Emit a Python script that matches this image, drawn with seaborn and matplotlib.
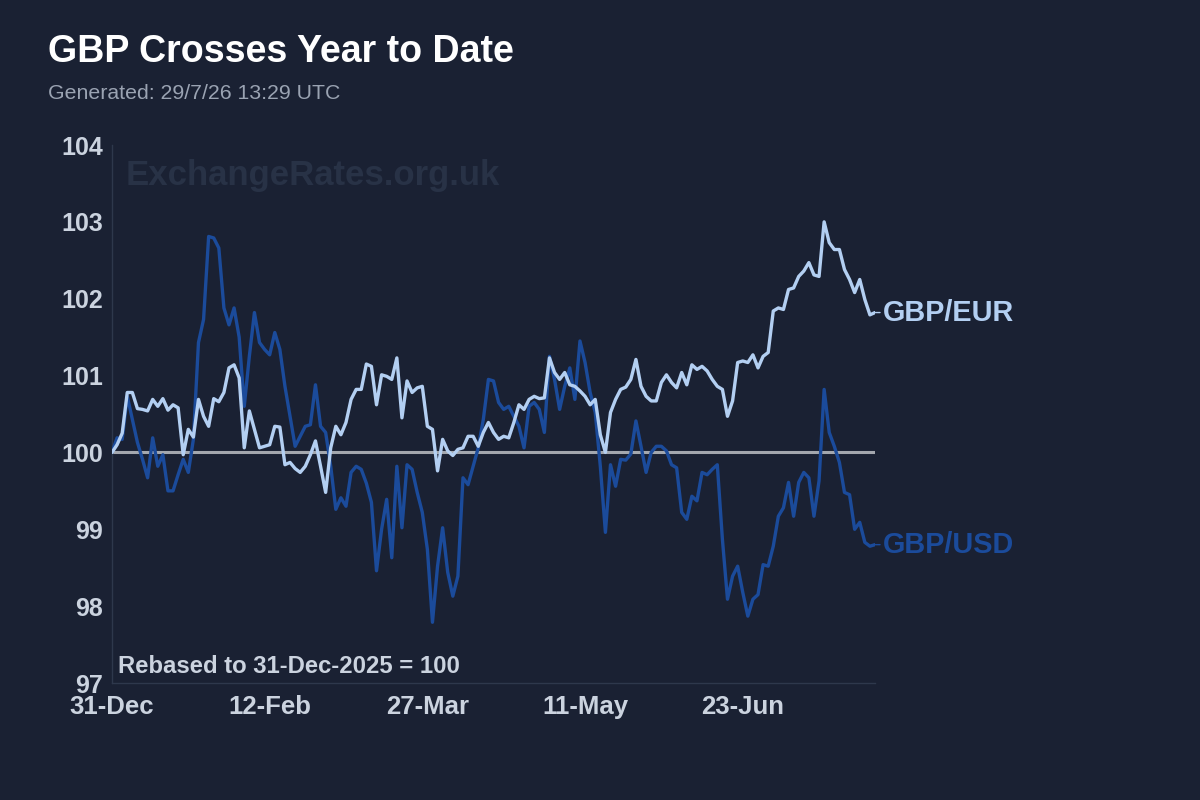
import numpy as np
import pandas as pd
import matplotlib
matplotlib.use("Agg")
import matplotlib.pyplot as plt
import seaborn as sns

# ---------------- data ----------------
start_date = "2025-12-31"
pairs = ["GBP/USD", "GBP/EUR"]
tick_labels = ["31-Dec", "12-Feb", "27-Mar", "11-May", "23-Jun"]

gbp_eur = [
    100.0, 100.1, 100.25, 100.78, 100.78, 100.57, 100.56, 100.54, 100.69, 100.6,
    100.7, 100.55, 100.62, 100.58, 99.97, 100.3, 100.2, 100.69, 100.47, 100.34,
    100.7, 100.66, 100.78, 101.1, 101.14, 100.97, 100.06, 100.54, 100.3, 100.06,
    100.08, 100.1, 100.34, 100.33, 99.84, 99.87, 99.79, 99.74, 99.82, 99.97,
    100.15, 99.82, 99.48, 100.06, 100.34, 100.23, 100.39, 100.69, 100.82, 100.82,
    101.15, 101.12, 100.62, 101.01, 100.99, 100.95, 101.23, 100.45, 100.93, 100.78,
    100.84, 100.86, 100.34, 100.3, 99.76, 100.17, 100.02, 99.96, 100.04, 100.06,
    100.21, 100.21, 100.08, 100.26, 100.39, 100.26, 100.17, 100.21, 100.19, 100.39,
    100.62, 100.56, 100.69, 100.73, 100.7, 100.71, 101.23, 101.04, 100.95, 101.04,
    100.88, 100.86, 100.8, 100.73, 100.62, 100.69, 100.23, 100.0, 100.52, 100.69,
    100.82, 100.85, 100.95, 101.21, 100.86, 100.73, 100.67, 100.67, 100.91, 101.01,
    100.91, 100.84, 101.04, 100.88, 101.14, 101.08, 101.12, 101.06, 100.95, 100.86,
    100.82, 100.47, 100.67, 101.17, 101.19, 101.17, 101.27, 101.1, 101.25, 101.3,
    101.84, 101.88, 101.86, 102.12, 102.14, 102.29, 102.36, 102.47, 102.31, 102.29,
    103.0, 102.73, 102.64, 102.64, 102.38, 102.25, 102.08, 102.25, 101.99, 101.79,
    101.82,
]

gbp_usd = [
    100.0, 100.19, 100.17, 100.73, 100.43, 100.13, 99.91, 99.67, 100.19, 99.82,
    99.97, 99.5, 99.5, 99.71, 99.91, 99.74, 100.17, 101.43, 101.73, 102.81,
    102.79, 102.66, 101.88, 101.66, 101.88, 101.5, 100.6, 101.25, 101.82, 101.43,
    101.34, 101.27, 101.56, 101.34, 100.86, 100.47, 100.08, 100.21, 100.34, 100.36,
    100.88, 100.34, 100.26, 99.82, 99.26, 99.41, 99.3, 99.74, 99.82, 99.78,
    99.6, 99.35, 98.46, 99.0, 99.39, 98.63, 99.82, 99.02, 99.84, 99.78,
    99.48, 99.22, 98.74, 97.79, 98.52, 99.02, 98.44, 98.13, 98.39, 99.67,
    99.58, 99.82, 100.06, 100.43, 100.95, 100.93, 100.65, 100.56, 100.6, 100.47,
    100.34, 100.06, 100.6, 100.65, 100.56, 100.26, 101.25, 100.95, 100.56, 100.86,
    101.1, 100.69, 101.45, 101.17, 100.78, 100.52, 99.82, 98.96, 99.84, 99.56,
    99.91, 99.9, 99.98, 100.41, 100.08, 99.74, 100.0, 100.08, 100.08, 100.02,
    99.84, 99.8, 99.22, 99.13, 99.43, 99.37, 99.74, 99.71, 99.78, 99.84,
    98.87, 98.09, 98.39, 98.52, 98.18, 97.87, 98.09, 98.15, 98.54, 98.52,
    98.78, 99.17, 99.28, 99.61, 99.17, 99.61, 99.74, 99.67, 99.17, 99.63,
    100.82, 100.26, 100.08, 99.87, 99.48, 99.45, 99.0, 99.09, 98.83, 98.78,
    98.8,
]

# ---------------- styling ----------------
BG = "#1a2133"
EUR_C = "#b3cff2"
USD_C = "#1b4b9b"
TICK_C = "#cbd3df"
SPINE_C = "#2e384c"

sns.set_theme(style="dark")
plt.rcParams["font.family"] = ["Liberation Sans", "DejaVu Sans"]

dates = pd.bdate_range(start_date, periods=len(gbp_eur))
n = len(dates)
df = pd.DataFrame({
    "idx": np.concatenate([np.arange(n), np.arange(n)]),
    "value": np.concatenate([gbp_usd, gbp_eur]),
    "pair": ["GBP/USD"] * n + ["GBP/EUR"] * n,
})

fig = plt.figure(figsize=(12, 8), dpi=100, facecolor=BG)
ax = fig.add_axes([112 / 1200, 117 / 800, (875 - 112) / 1200, (683 - 145) / 800])
ax.set_facecolor(BG)

ax.axhline(100, color="#a3a7ae", lw=2.2, zorder=1)
sns.lineplot(data=df, x="idx", y="value", hue="pair", hue_order=pairs,
             palette={"GBP/USD": USD_C, "GBP/EUR": EUR_C},
             linewidth=2.4, legend=False, ax=ax, zorder=3)

ax.set_xlim(0, n - 1)
ax.set_ylim(97, 104)
ax.grid(False)
ax.set_xlabel("")
ax.set_ylabel("")

tick_pos = [dates.get_loc(pd.Timestamp(f"{lab}-{2025 if lab.endswith('Dec') else 2026}")) for lab in tick_labels]
ax.set_xticks(tick_pos)
ax.set_xticklabels(tick_labels)
ax.set_yticks(range(97, 105))
ax.tick_params(axis="both", length=0, labelcolor=TICK_C)
ax.tick_params(axis="y", pad=6.5, labelsize=18)
ax.tick_params(axis="x", pad=22.5, labelsize=18.5)
for lab in ax.get_xticklabels():
    lab.set_fontweight("bold")
    lab.set_verticalalignment("baseline")
for lab in ax.get_yticklabels():
    lab.set_fontweight("bold")

for side in ["top", "right"]:
    ax.spines[side].set_visible(False)
for side in ["left", "bottom"]:
    ax.spines[side].set_visible(True)
    ax.spines[side].set_color(SPINE_C)
    ax.spines[side].set_linewidth(1.0)

# end labels
for name, series, col in [("GBP/EUR", gbp_eur, EUR_C), ("GBP/USD", gbp_usd, USD_C)]:
    ax.annotate(name, xy=(n - 1, series[-1]), xytext=(6, 0), textcoords="offset points",
                ha="left", va="center", color=col, fontsize=20.8, fontweight="bold",
                annotation_clip=False,
                arrowprops=dict(arrowstyle="-", color=col, lw=1.0, shrinkA=0, shrinkB=0))

# texts
fig.text(48 / 1200, 1 - 62 / 800, "GBP Crosses Year to Date", color="white",
         fontsize=27, fontweight="bold", va="baseline", ha="left")
fig.text(48 / 1200, 1 - 99 / 800, "Generated: 29/7/26 13:29 UTC", color="#9aa3b2",
         fontsize=15.3, va="baseline", ha="left")
fig.text(126 / 1200, 1 - 175 / 800, "ExchangeRates.org.uk", color="#283246",
         fontsize=25, fontweight="bold", va="center", ha="left", zorder=0)
fig.text(118 / 1200, 1 - 673 / 800, "Rebased to 31-Dec-2025 = 100", color=TICK_C,
         fontsize=17.2, fontweight="bold", va="baseline", ha="left")

fig.savefig("out.png", dpi=100, facecolor=BG)
